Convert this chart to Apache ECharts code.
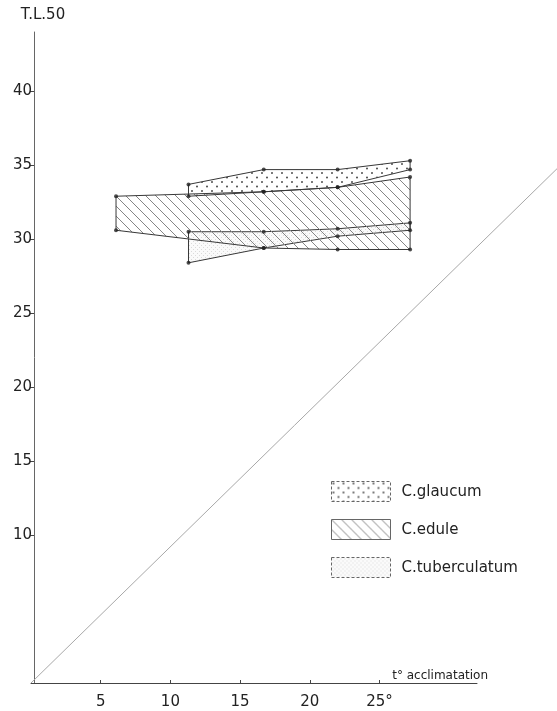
<!DOCTYPE html>
<html>
<head>
<meta charset="utf-8">
<script src="https://cdn.jsdelivr.net/npm/echarts@6/dist/echarts.min.js"></script>
<style>
html,body{margin:0;padding:0;background:#fff;}
#chart{width:557px;height:711px;}
</style>
</head>
<body>
<div id="chart"></div>
<script>
// ---- data ----
const speciesNames = ['C.glaucum', 'C.edule', 'C.tuberculatum'];

const glaucumX   = [11.3, 16.7, 22.0, 27.2];
const glaucumMax = [33.7, 34.7, 34.7, 35.3];
const glaucumMin = [32.9, 33.2, 33.5, 34.7];

const eduleX   = [6.1, 16.7, 22.0, 27.2];
const eduleMax = [32.9, 33.2, 33.5, 34.2];
const eduleMin = [30.6, 29.4, 29.3, 29.3];

const tuberX   = [11.3, 16.7, 22.0, 27.2];
const tuberMax = [30.5, 30.5, 30.7, 31.1];
const tuberMin = [28.4, 29.4, 30.2, 30.6];

const diagX = [0, 38];
const diagY = [0, 35];

const xTickValues = [5, 10, 15, 20, 25];
const xTickLabels = ['5', '10', '15', '20', '25°'];
const yTickValues = [10, 15, 20, 25, 30, 35, 40];
const yTickLabels = ['10', '15', '20', '25', '30', '35', '40'];

// ---- patterns ----
function tile(w, h, draw) {
  const c = document.createElement('canvas');
  c.width = w; c.height = h;
  draw(c.getContext('2d'), w, h);
  return c;
}
const dotTile = tile(10, 9, (g) => {
  g.fillStyle = '#444';
  [[2, 2], [7, 6.5]].forEach(p => { g.beginPath(); g.arc(p[0], p[1], 0.95, 0, Math.PI * 2); g.fill(); });
});
const hatchTile = tile(10, 10, (g) => {
  g.strokeStyle = '#858585'; g.lineWidth = 1;
  g.beginPath();
  g.moveTo(-1, -1); g.lineTo(11, 11);
  g.moveTo(-1, 9); g.lineTo(1, 11);
  g.moveTo(9, -1); g.lineTo(11, 1);
  g.stroke();
});
const fineTile = tile(4, 4, (g) => {
  g.fillStyle = 'rgba(0,0,0,0.02)'; g.fillRect(0, 0, 4, 4);
  g.fillStyle = '#dadada';
  g.fillRect(1, 1, 1, 1);
  g.fillRect(3, 3, 1, 1);
});
const patterns = [
  { image: dotTile, repeat: 'repeat' },
  { image: hatchTile, repeat: 'repeat' },
  { image: fineTile, repeat: 'repeat' }
];

function polygonOf(xs, maxs, mins) {
  const up = xs.map((x, i) => [x, maxs[i]]);
  const lo = xs.map((x, i) => [x, mins[i]]).reverse();
  return up.concat(lo);
}
const polys = [
  polygonOf(glaucumX, glaucumMax, glaucumMin),
  polygonOf(eduleX, eduleMax, eduleMin),
  polygonOf(tuberX, tuberMax, tuberMin)
];
// drawing order: tuberculatum, edule, glaucum
const drawOrder = [2, 1, 0];

const vertexPts = [];
polys.forEach(p => p.forEach(v => vertexPts.push(v)));

const chart = echarts.init(document.getElementById('chart'), null, { renderer: 'canvas' });

const axisFont = { fontFamily: 'DejaVu Sans', fontSize: 15, color: '#222' };

const option = {
  backgroundColor: '#fff',
  animation: false,
  grid: { left: 31, right: 80, top: 32, bottom: 28, containLabel: false, outerBoundsMode: 'none' },
  xAxis: {
    type: 'value', min: 0, max: 32, interval: 5,
    name: 't° acclimatation', nameLocation: 'end', nameGap: 11,
    nameTextStyle: { fontFamily: 'DejaVu Sans', fontSize: 12, color: '#222', align: 'right', verticalAlign: 'bottom', padding: [0, 0, 1, 0] },
    axisLine: { show: true, lineStyle: { color: '#444', width: 1 } },
    axisTick: { show: true, inside: true, length: 3, customValues: xTickValues, lineStyle: { color: '#444' } },
    axisLabel: Object.assign({ margin: 12, customValues: xTickValues,
      formatter: (v) => { const i = xTickValues.indexOf(v); return i >= 0 ? xTickLabels[i] : ''; } }, axisFont),
    splitLine: { show: false }
  },
  yAxis: {
    type: 'value', min: 0, max: 44, interval: 5, offset: -3,
    name: 'T.L.50', nameLocation: 'end', nameGap: 9,
    nameTextStyle: { fontFamily: 'DejaVu Sans', fontSize: 15, color: '#222', align: 'center', padding: [0, 0, 0, 18] },
    axisLine: { show: true, lineStyle: { color: '#666', width: 1 } },
    axisTick: { show: true, inside: false, length: 4, customValues: yTickValues, lineStyle: { color: '#444' } },
    axisLabel: Object.assign({ margin: 2, customValues: yTickValues,
      formatter: (v) => { const i = yTickValues.indexOf(v); return i >= 0 ? yTickLabels[i] : ''; } }, axisFont),
    splitLine: { show: false }
  },
  series: [
    {
      type: 'custom', name: 'diagonal', z: 1, silent: true, clip: false,
      data: [[diagX[0], diagY[0]]],
      renderItem: function (params, api) {
        const p0 = api.coord([diagX[0], diagY[0]]);
        const p1 = api.coord([diagX[1], diagY[1]]);
        return {
          type: 'line',
          shape: { x1: p0[0], y1: p0[1], x2: p1[0], y2: p1[1] },
          style: { stroke: '#a8a8a8', lineWidth: 1 }
        };
      }
    },
    {
      type: 'custom', name: 'species', z: 2,
      data: drawOrder.map(k => [polys[k][0][0], polys[k][0][1], k]),
      renderItem: function (params, api) {
        const k = api.value(2);
        const pts = polys[k].map(p => api.coord(p));
        return {
          type: 'polygon',
          shape: { points: pts },
          style: { fill: patterns[k], stroke: '#383838', lineWidth: 1 }
        };
      }
    },
    {
      type: 'scatter', name: 'vertices', z: 3,
      data: vertexPts, symbol: 'circle', symbolSize: 4,
      itemStyle: { color: '#222' }
    }
  ],
  graphic: [
    {
      type: 'group', left: 331, top: 481,
      children: speciesNames.map((nm, i) => ({
        type: 'group', y: i * 38,
        children: [
          { type: 'rect', shape: { x: 0, y: 0, width: 59, height: 20 },
            style: { fill: patterns[i], stroke: '#666', lineWidth: 1, lineDash: i === 1 ? null : [3, 2] } },
          { type: 'text', x: 70, y: 11,
            style: { text: nm, fontFamily: 'DejaVu Sans', fontSize: 15, fill: '#222', verticalAlign: 'middle', align: 'left' } }
        ]
      }))
    }
  ]
};
chart.setOption(option);
</script>
</body>
</html>
